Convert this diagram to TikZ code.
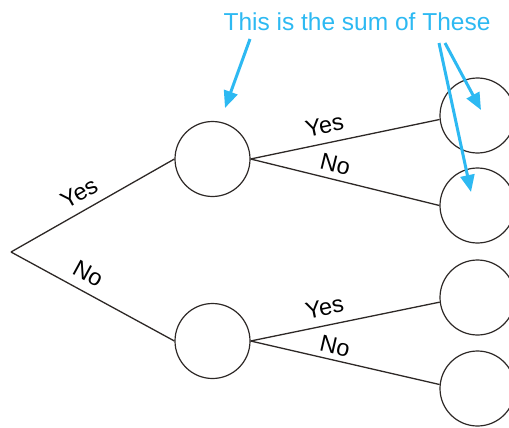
\documentclass[tikz,border=0pt]{standalone}
\usepackage{fontspec}
\setmainfont{Liberation Sans}
\usetikzlibrary{arrows.meta}
\definecolor{hlblue}{RGB}{45,185,242}
\definecolor{ink}{RGB}{45,40,38}
\tikzset{
  chance/.style={circle, draw=ink, line width=1.2pt, minimum size=75pt, inner sep=0pt},
  branch/.style={draw=ink, line width=1.3pt},
  lbl/.style={font=\fontsize{23.5}{25}\selectfont, sloped, inner sep=0pt},
  note/.style={hlblue, line width=3pt, -{Triangle[length=17pt, width=14pt]}}
}
\begin{document}
\begin{tikzpicture}[x=1pt, y=-1pt]
\clip (0,0) rectangle (509,428);
\coordinate (root) at (11,252);
\node[chance] (m1) at (212.5,159) {};
\node[chance] (m2) at (212.5,341) {};
\node[chance] (r1) at (477.5,115.5) {};
\node[chance] (r2) at (477.5,205.5) {};
\node[chance] (r3) at (477.5,297.5) {};
\node[chance] (r4) at (477.5,388.5) {};

\draw[branch] (root) -- node[lbl, pos=0.47, above=9pt] {Yes} (m1.west);
\draw[branch] (root) -- node[lbl, pos=0.42, above=9pt] {No} (m2.west);
\draw[branch] (m1.east) -- node[lbl, pos=0.41, above=9pt] {Yes} (r1.186);
\draw[branch] (m1.east) -- node[lbl, pos=0.43, above=6pt] {No} (r2.west);
\draw[branch] (m2.east) -- node[lbl, pos=0.41, above=9pt] {Yes} (r3.187);
\draw[branch] (m2.east) -- node[lbl, pos=0.43, above=5pt] {No} (r4.174);

\node[hlblue, font=\fontsize{24.5}{26}\selectfont, inner sep=0pt] (title) at (357,22) {This is the sum of These};

\coordinate (t1) at (250,39);
\coordinate (h1) at (225,108);
\coordinate (t2) at (445,43);
\coordinate (h2) at (481,110);
\coordinate (t3) at (439,43);
\coordinate (h3) at (471,192);
\draw[note] (t1) -- (h1);
\draw[note] (t2) -- (h2);
\draw[note] (t3) -- (h3);
\end{tikzpicture}
\end{document}
